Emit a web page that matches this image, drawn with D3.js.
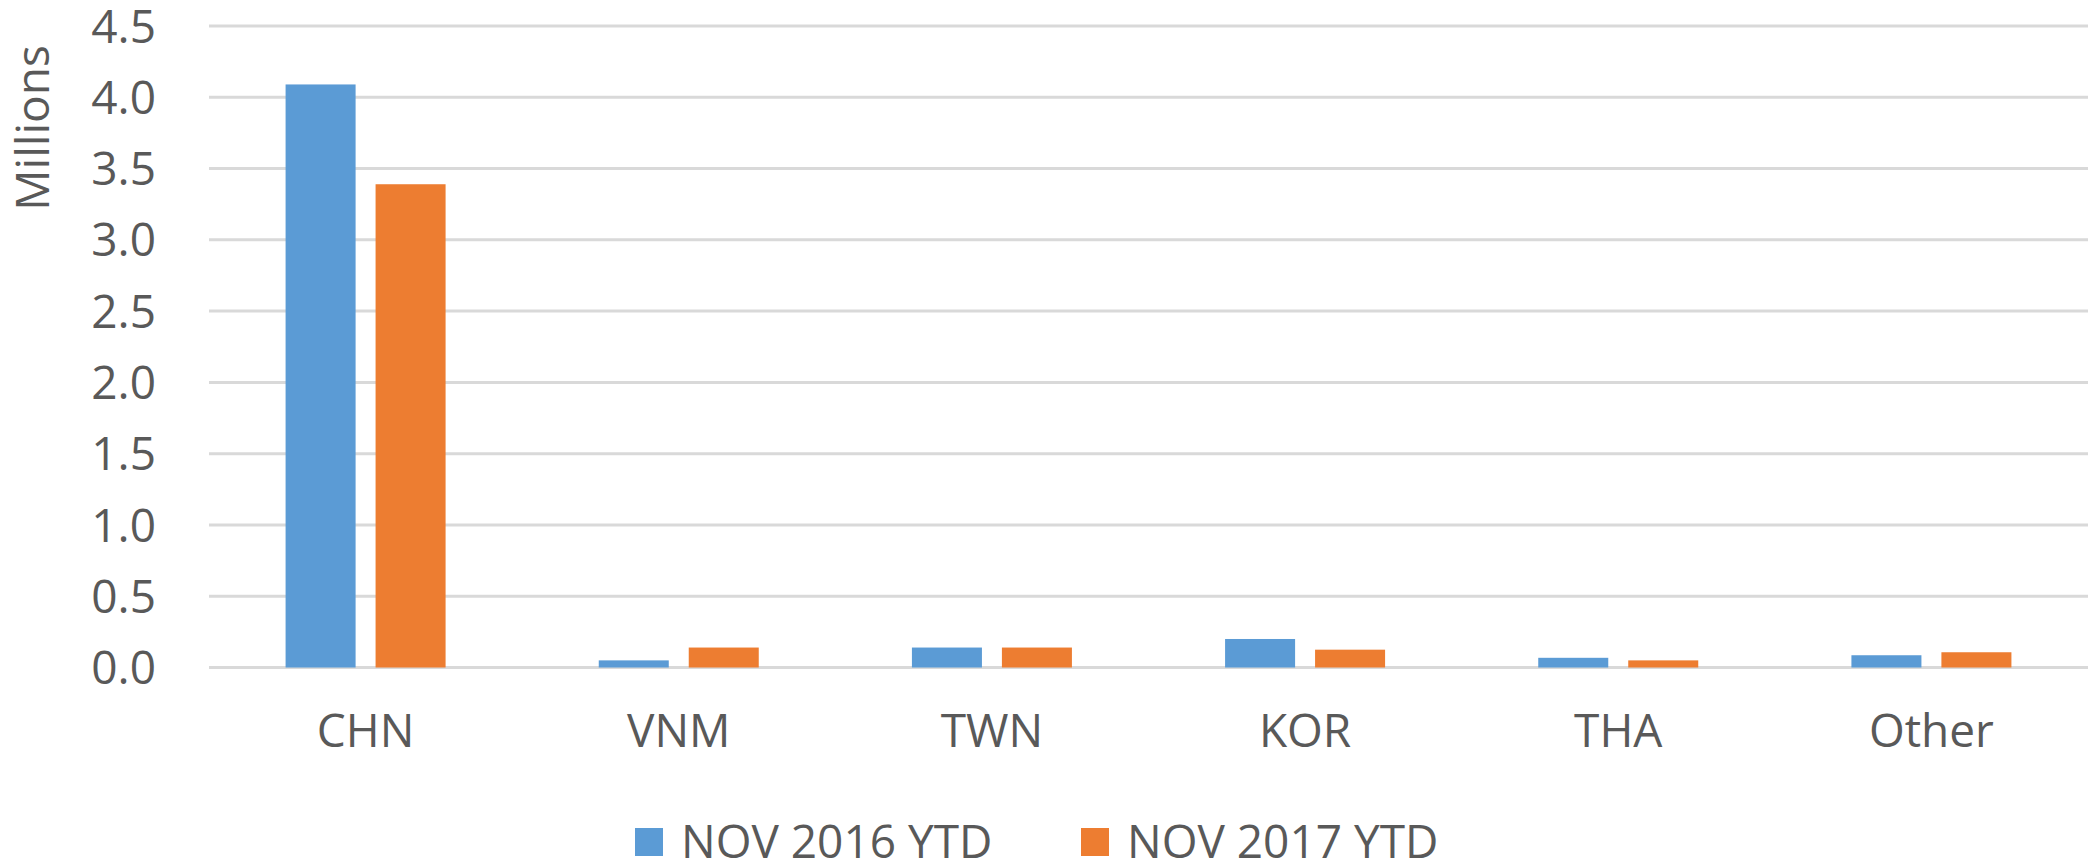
<!DOCTYPE html>
<html>
<head>
<meta charset="utf-8">
<script src="https://cdn.jsdelivr.net/npm/d3@7"></script>
<style>
  html, body { margin: 0; padding: 0; background: #ffffff; }
  svg { display: block; }
  text { font-family: "Open Sans", "Noto Sans", sans-serif; fill: #595959; }
</style>
</head>
<body>
<svg id="chart" width="2092" height="865"></svg>
<script>
// ---- data ----
const categories = ["CHN", "VNM", "TWN", "KOR", "THA", "Other"];
const seriesNames = ["NOV 2016 YTD", "NOV 2017 YTD"];
const nov2016 = [4.09, 0.05, 0.14, 0.20, 0.068, 0.086];
const nov2017 = [3.39, 0.14, 0.14, 0.125, 0.05, 0.107];
const yTicks = [0, 0.5, 1.0, 1.5, 2.0, 2.5, 3.0, 3.5, 4.0, 4.5];
const colors = ["#5B9BD5", "#ED7D31"];
const yTitle = "Millions";

// ---- layout ----
const FS = 46;
const plotLeft = 209, plotRight = 2088, plotTop = 26, plotBottom = 667.5;
const svg = d3.select("#chart");

const x0 = d3.scaleBand().domain(categories).range([plotLeft, plotRight]).paddingInner(0).paddingOuter(0);
const groupW = 160;
const x1 = d3.scaleBand().domain(seriesNames).range([0, groupW]).paddingInner(0.222).paddingOuter(0);
const y = d3.scaleLinear().domain([0, 4.5]).range([plotBottom, plotTop]);

// gridlines
svg.append("g").selectAll("line").data(yTicks).join("line")
  .attr("x1", plotLeft).attr("x2", plotRight)
  .attr("y1", d => y(d)).attr("y2", d => y(d))
  .attr("stroke", "#d9d9d9").attr("stroke-width", 3);

// y axis labels
const yAxis = d3.axisLeft(y).tickValues(yTicks).tickFormat(d3.format(".1f")).tickSize(0).tickPadding(0);
const ya = svg.append("g").attr("transform", `translate(156,0)`).call(yAxis);
ya.select(".domain").remove();
ya.selectAll("text").attr("font-size", FS).attr("dy", "0.35em")
  .style("font-family", "'Open Sans', sans-serif").style("fill", "#595959");

// x axis labels
const xAxis = d3.axisBottom(x0).tickSize(0).tickPadding(0);
const xa = svg.append("g").attr("transform", `translate(0,731)`).call(xAxis);
xa.select(".domain").remove();
xa.selectAll("text").attr("font-size", FS).attr("dy", "0.35em").attr("y", 0)
  .style("font-family", "'Open Sans', sans-serif").style("fill", "#595959");

// bars
const seriesData = [nov2016, nov2017];
const groups = svg.append("g").selectAll("g").data(categories).join("g")
  .attr("transform", c => `translate(${x0(c) + (x0.bandwidth() - groupW) / 2},0)`);
groups.selectAll("rect").data((c, i) => seriesNames.map((s, j) => ({ s, j, v: seriesData[j][i] })))
  .join("rect")
  .attr("x", d => x1(d.s))
  .attr("width", x1.bandwidth())
  .attr("y", d => y(d.v))
  .attr("height", d => y(0) - y(d.v))
  .attr("fill", d => colors[d.j]);

// y title
svg.append("text")
  .attr("transform", `translate(33,128) rotate(-90)`)
  .attr("text-anchor", "middle").attr("dy", "0.35em")
  .attr("font-size", FS)
  .text(yTitle);

// legend
const legendX = [635, 1081];
const leg = svg.append("g").selectAll("g").data(seriesNames).join("g")
  .attr("transform", (d, i) => `translate(${legendX[i]},842)`);
leg.append("rect").attr("x", 0).attr("y", -14).attr("width", 28).attr("height", 28)
  .attr("fill", (d, i) => colors[i]);
leg.append("text").attr("x", 46).attr("dy", "0.35em").attr("font-size", FS).text(d => d);
</script>
</body>
</html>
